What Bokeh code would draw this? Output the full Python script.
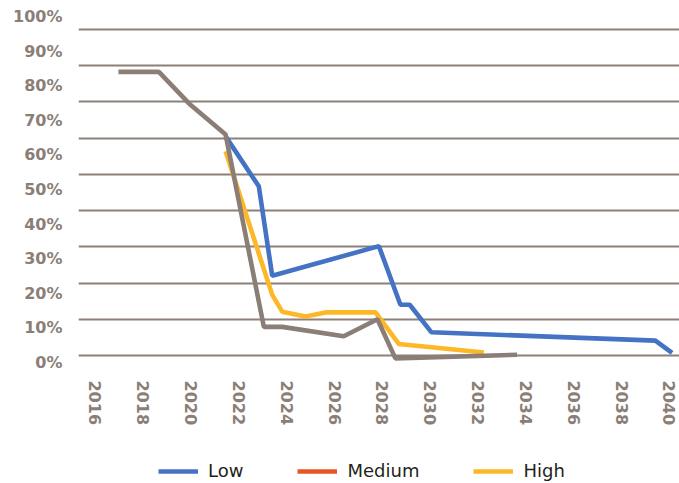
from bokeh.plotting import figure
from bokeh.layouts import column
from bokeh.models import (Range1d, LinearAxis, Grid, SingleIntervalTicker, FixedTicker,
                          PrintfTickFormatter, Legend, LegendItem)
from bokeh.embed import file_html
from bokeh.resources import INLINE

# ---- data ----
tick_years = [2016, 2018, 2020, 2022, 2024, 2026, 2028, 2030, 2032, 2034, 2036, 2038, 2040]

low_years = [2021.44, 2022.83, 2023.39, 2027.85, 2028.75, 2029.14, 2030.05, 2039.41, 2040.11]
low_vals = [60.5, 46.7, 22.0, 30.2, 14.0, 14.0, 6.4, 4.1, 0.7]

medium_years = []
medium_vals = []

high_years = [2021.44, 2023.39, 2023.81, 2024.78, 2025.62, 2027.71, 2028.68, 2032.24]
high_vals = [56.4, 16.75, 12.1, 10.75, 11.9, 11.9, 3.2, 0.85]

base_years = [2016.96, 2018.65, 2019.97, 2021.44, 2023.04, 2023.81, 2026.38, 2027.79, 2028.54, 2033.63]
base_vals = [78.3, 78.3, 69.2, 61.0, 7.9, 7.9, 5.3, 10.0, -0.8, 0.2]

series_names = ["Low", "Medium", "High"]

GRAY = "#8A7E77"
BLUE = "#4472C4"
ORANGE = "#E85622"
YELLOW = "#FCB826"
LW = 4.6

p = figure(width=679, height=440,
           x_range=Range1d(2015.29, 2040.42), y_range=Range1d(-1.93, 93.59),
           output_backend="svg", toolbar_location=None,
           y_axis_location=None,
           min_border_left=78, min_border_right=0, min_border_top=16, min_border_bottom=78)
p.outline_line_color = None
p.background_fill_color = "white"
p.border_fill_color = "white"
p.xgrid.visible = False

# horizontal grid lines on the data range
p.add_layout(Grid(dimension=1, ticker=SingleIntervalTicker(interval=10),
                  grid_line_color="#8C8079", grid_line_width=2))

# percentage label axis
p.extra_y_ranges = {"lab": Range1d(0, 100)}
yax = LinearAxis(y_range_name="lab", ticker=SingleIntervalTicker(interval=10),
                 formatter=PrintfTickFormatter(format="%d%%"))
yax.axis_line_color = None
yax.major_tick_line_color = None
yax.minor_tick_line_color = None
yax.major_label_standoff = 10
yax.major_label_text_font = "DejaVu Sans"
yax.major_label_text_font_style = "bold"
yax.major_label_text_font_size = "16px"
yax.major_label_text_color = GRAY
p.add_layout(yax, "left")

xax = p.xaxis[0]
xax.ticker = FixedTicker(ticks=tick_years)
xax.major_label_orientation = "vertical"
xax.axis_line_color = None
xax.major_tick_line_color = None
xax.minor_tick_line_color = None
xax.major_label_standoff = 12
xax.major_label_text_font = "DejaVu Sans"
xax.major_label_text_font_style = "bold"
xax.major_label_text_font_size = "16px"
xax.major_label_text_color = GRAY

p.line(low_years, low_vals, line_color=BLUE, line_width=LW)
p.line(medium_years, medium_vals, line_color=ORANGE, line_width=LW)
p.line(high_years, high_vals, line_color=YELLOW, line_width=LW)
p.line(base_years, base_vals, line_color=GRAY, line_width=LW)

# legend strip below the chart (swatch renderers sit outside the visible range)
stub_x = [-2, -1]
stub_y = [-2, -1]
q = figure(width=679, height=43, x_range=Range1d(0, 1), y_range=Range1d(0, 1),
           output_backend="svg", toolbar_location=None,
           x_axis_location=None, y_axis_location=None,
           min_border_left=78, min_border_right=0, min_border_top=0, min_border_bottom=0)
q.outline_line_color = None
q.xgrid.visible = False
q.ygrid.visible = False
sw = [q.line(stub_x, stub_y, line_color=c, line_width=LW) for c in (BLUE, ORANGE, YELLOW)]
legend = Legend(items=[LegendItem(label=n, renderers=[r]) for n, r in zip(series_names, sw)],
                orientation="horizontal", location=(80, 2),
                glyph_width=40, glyph_height=20, label_standoff=10, spacing=54,
                padding=0, margin=0, border_line_color=None, background_fill_alpha=0,
                label_text_font="DejaVu Sans", label_text_font_size="18px",
                label_text_color="#231F20")
q.add_layout(legend)

layout = column(p, q, spacing=0)
open("out.html", "w").write(file_html(layout, INLINE))
